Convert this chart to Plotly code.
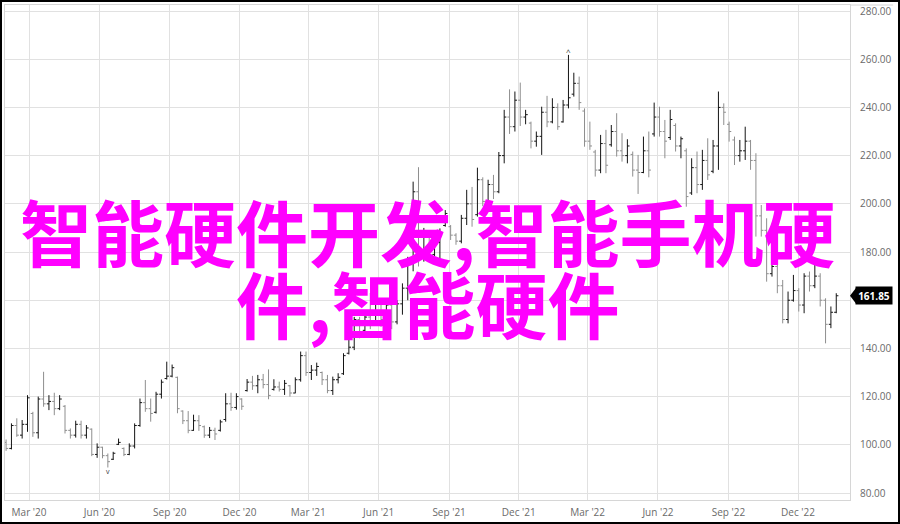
import pandas as pd
import plotly.graph_objects as go

# Weekly OHLC bars, Feb 2020 - Jan 2023
dates = pd.date_range("2020-01-31", periods=156, freq="7D")

high = [102.2, 108.9, 111.0, 110.3, 120.6, 113.7, 120.0, 130.3, 120.6, 121.6,
        120.6, 116.5, 106.8, 110.0, 110.0, 108.2, 106.8, 100.6, 99.2, 96.4,
        97.1, 102.6, 98.9, 100.6, 108.9, 119.2, 126.9, 119.2, 122.0, 127.1,
        134.5, 133.3, 128.3, 114.3, 114.0, 112.5, 112.3, 108.0, 107.4, 107.1,
        110.4, 121.4, 121.6, 121.4, 119.3, 127.3, 128.6, 129.0, 129.4, 131.3,
        127.2, 126.2, 126.9, 124.8, 128.0, 138.7, 138.7, 133.1, 134.1, 130.4,
        129.0, 128.3, 129.7, 138.0, 144.1, 153.1, 153.1, 155.0, 163.0, 164.0,
        160.0, 160.0, 159.0, 160.0, 167.0, 178.0, 209.2, 215.2, 190.0, 188.0,
        186.0, 189.8, 197.4, 191.2, 187.8, 195.4, 205.8, 207.0, 215.0, 211.0,
        210.0, 212.0, 221.5, 239.0, 247.5, 246.6, 250.3, 239.0, 234.1, 230.0,
        240.3, 244.8, 243.8, 241.7, 243.1, 261.8, 254.4, 252.8, 239.6, 234.1,
        222.4, 228.6, 230.7, 232.7, 237.6, 229.3, 226.8, 221.7, 220.3, 227.9,
        230.0, 242.0, 240.3, 234.8, 239.0, 233.4, 227.9, 223.0, 218.9, 221.7,
        222.4, 227.2, 226.5, 246.6, 241.7, 234.1, 227.9, 226.5, 232.0, 226.5,
        221.0, 199.5, 194.0, 176.0, 179.5, 168.4, 163.6, 170.5, 165.0, 171.2,
        171.9, 174.6, 171.2, 160.8, 157.4, 162.9]

low = [97.5, 98.1, 103.3, 102.6, 105.4, 103.3, 102.6, 115.8, 114.4, 112.3,
       114.4, 104.7, 102.6, 103.0, 102.6, 102.6, 95.3, 94.6, 94.4, 90.6,
       93.7, 99.9, 95.3, 95.7, 98.5, 107.5, 113.7, 109.6, 113.0, 119.2,
       127.1, 128.0, 113.1, 108.6, 104.8, 105.8, 105.8, 102.9, 102.8, 102.0,
       105.5, 109.6, 114.1, 114.6, 114.5, 122.1, 122.8, 121.4, 123.4, 118.9,
       122.5, 122.1, 120.7, 120.0, 121.4, 126.2, 128.6, 126.9, 128.6, 124.8,
       121.4, 120.7, 125.5, 129.0, 137.5, 139.3, 144.2, 147.0, 148.0, 150.0,
       149.0, 150.0, 148.0, 150.0, 154.0, 160.0, 172.0, 174.0, 176.0, 177.0,
       176.0, 177.4, 190.5, 185.0, 183.0, 183.6, 191.2, 190.5, 194.7, 199.0,
       200.2, 202.0, 204.4, 216.8, 229.0, 230.0, 232.3, 233.0, 223.0, 223.7,
       220.3, 231.8, 233.4, 230.7, 233.7, 239.6, 244.5, 239.0, 223.7, 222.4,
       211.3, 212.7, 212.7, 223.7, 219.6, 217.5, 216.8, 211.3, 204.1, 212.7,
       211.0, 227.9, 227.9, 218.9, 226.5, 221.7, 218.9, 198.8, 203.7, 204.4,
       205.8, 209.9, 212.7, 214.1, 232.7, 225.8, 216.1, 217.5, 218.2, 214.1,
       186.4, 186.4, 167.7, 169.8, 162.9, 150.4, 150.4, 159.4, 155.3, 154.6,
       163.6, 165.0, 157.4, 142.1, 148.4, 154.6]

open_ = [101.0, 98.5, 108.0, 104.0, 108.5, 113.0, 105.0, 119.0, 117.0, 118.0,
         115.0, 116.0, 106.0, 104.0, 108.5, 104.0, 106.5, 96.0, 99.0, 95.5,
         94.0, 100.2, 98.5, 96.0, 99.5, 108.0, 117.5, 115.0, 113.5, 121.0,
         127.5, 128.5, 128.0, 114.0, 110.0, 106.0, 110.0, 107.5, 104.0, 106.0,
         106.0, 110.5, 117.0, 115.5, 119.0, 122.5, 126.0, 124.5, 127.0, 125.0,
         123.0, 124.0, 123.0, 124.5, 121.5, 127.0, 137.0, 130.0, 131.0, 130.0,
         127.0, 122.5, 127.0, 129.5, 138.0, 140.5, 152.0, 147.5, 153.0, 150.0,
         159.5, 152.0, 158.0, 151.0, 158.5, 165.0, 176.0, 205.0, 178.0, 187.0,
         179.0, 184.0, 191.0, 190.5, 187.0, 184.5, 194.0, 200.0, 195.5, 210.0,
         201.0, 208.0, 205.0, 220.0, 236.0, 232.0, 243.0, 236.0, 233.5, 226.0,
         228.0, 238.0, 234.0, 240.0, 234.0, 241.0, 245.5, 250.0, 238.5, 226.0,
         221.5, 214.0, 225.0, 224.5, 230.0, 222.0, 220.0, 220.5, 214.0, 213.0,
         222.0, 229.0, 236.0, 230.0, 227.5, 232.5, 224.0, 222.0, 204.5, 215.0,
         208.0, 218.0, 213.5, 224.0, 240.0, 233.0, 226.5, 220.0, 222.0, 226.0,
         218.0, 195.0, 189.0, 171.0, 174.0, 166.0, 152.0, 160.0, 164.0, 158.0,
         170.0, 166.0, 170.0, 160.0, 150.0, 155.0]

close = [98.5, 108.0, 104.0, 108.5, 119.5, 105.0, 119.0, 117.0, 118.0, 115.0,
         119.0, 106.0, 104.0, 108.5, 104.0, 107.0, 96.0, 99.0, 95.5, 93.0,
         96.5, 101.0, 96.0, 99.5, 108.0, 117.5, 115.0, 113.0, 121.0, 126.0,
         128.5, 132.0, 115.0, 110.0, 106.0, 110.0, 108.0, 104.0, 106.0, 104.5,
         109.5, 117.0, 115.5, 120.0, 116.0, 126.0, 124.5, 127.0, 125.0, 120.5,
         124.0, 123.0, 125.5, 121.5, 127.0, 137.0, 130.0, 131.0, 132.5, 127.0,
         122.5, 127.0, 128.0, 137.0, 140.5, 152.0, 146.0, 153.0, 150.0, 162.0,
         152.0, 158.0, 151.0, 158.5, 165.0, 176.0, 205.0, 178.0, 187.0, 179.0,
         184.0, 188.0, 196.0, 187.0, 184.5, 194.0, 200.0, 193.5, 210.0, 201.0,
         208.0, 205.0, 220.0, 236.0, 232.0, 243.0, 236.0, 237.0, 226.0, 228.0,
         238.0, 234.0, 240.0, 232.0, 241.0, 244.0, 250.0, 242.0, 226.0, 224.0,
         214.0, 225.0, 216.0, 230.0, 222.0, 220.0, 224.0, 214.0, 213.0, 222.0,
         214.0, 236.0, 230.0, 226.0, 235.0, 224.0, 227.0, 203.0, 215.0, 208.0,
         218.0, 212.0, 224.0, 240.0, 238.0, 230.0, 220.0, 222.0, 226.0, 218.0,
         195.0, 189.0, 171.0, 174.0, 166.0, 152.0, 160.0, 164.0, 158.0, 170.0,
         166.0, 170.0, 160.0, 150.0, 155.0, 161.85]

y_ticks = [80, 100, 120, 140, 160, 180, 200, 220, 240, 260, 280]
# the 160 label is hidden behind the last-price marker in the reference
y_tick_labels = ["80.00", "100.00", "120.00", "140.00", "", "180.00", "200.00",
                 "220.00", "240.00", "260.00", "280.00"]
last_price = close[-1]
title_line1 = "智能硬件开发,智能手机硬"
title_line2 = "件,智能硬件"

fig = go.Figure()
fig.add_trace(go.Ohlc(
    x=dates, open=open_, high=high, low=low, close=close,
    increasing=dict(line=dict(color="#141414", width=1)),
    decreasing=dict(line=dict(color="#8e8e8e", width=1)),
    tickwidth=0.4, hoverinfo="skip", showlegend=False,
))

grid = "#e1e1e1"
fig.update_layout(
    width=900, height=524,
    margin=dict(l=5, r=50, t=5, b=24),
    paper_bgcolor="white", plot_bgcolor="white",
    font=dict(family="Open Sans", size=10, color="#6a6a6a"),
    showlegend=False,
    xaxis=dict(
        type="date",
        range=["2020-01-29 14:00", "2023-02-06 23:00"],
        tick0="2020-03-01", dtick="M3", tickformat="%b '%y",
        showgrid=True, gridcolor=grid, gridwidth=1,
        showline=True, mirror=True, linecolor="#d6d6d6", linewidth=1,
        ticks="", ticklabelstandoff=3,
        rangeslider=dict(visible=False), zeroline=False,
    ),
    yaxis=dict(
        side="right", range=[77.1, 282.5],
        tickvals=y_ticks, ticktext=y_tick_labels,
        showgrid=True, gridcolor=grid, gridwidth=1,
        showline=True, mirror=True, linecolor="#d6d6d6", linewidth=1,
        ticks="", ticklabelstandoff=7, zeroline=False,
    ),
)

# line extending the top border through the label gutter
fig.add_shape(type="line", xref="paper", yref="paper", x0=1, x1=1.051, y0=1, y1=1,
              line=dict(color="#d6d6d6", width=1))

# last-price marker
fig.add_shape(type="path", xref="paper", yref="y",
              path=f"M 1.0 {last_price} L 1.0075 {last_price + 3.4} L 1.0075 {last_price - 3.4} Z",
              fillcolor="black", line=dict(width=0))
fig.add_annotation(x=1, xref="paper", y=last_price, yref="y", xanchor="left", yanchor="middle",
                   xshift=5, text=f"<b>{last_price:.2f}</b>", showarrow=False,
                   bgcolor="black", font=dict(color="white", size=10, family="Open Sans"),
                   borderpad=2, width=32, height=13)

# high / low markers
fig.add_annotation(x=dates[105], y=high[105], text="^", showarrow=False, yanchor="bottom",
                   yshift=-4, font=dict(size=8, color="#333"))
fig.add_annotation(x=dates[19], y=low[19], text="v", showarrow=False, yanchor="top",
                   yshift=2, font=dict(size=7, color="#333"))

# magenta overlay text
for txt, yc in [(title_line1, 0.547), (title_line2, 0.401)]:
    fig.add_annotation(x=0.5, xref="paper", y=yc, yref="paper", xanchor="center", yanchor="middle",
                       text=f"<b>{txt}</b>", showarrow=False,
                       font=dict(family="Noto Sans CJK SC", size=72, color="#ff00ff"))

# page setup: no body margin, thin black frame around the picture
post = (
    "document.body.style.margin='0';"
    "var f=document.createElement('div');"
    "f.style.cssText='position:fixed;left:0;top:0;width:900px;height:524px;"
    "box-sizing:border-box;border:2px solid #000;pointer-events:none;z-index:9999;';"
    "document.body.appendChild(f);"
)
fig.write_html("out.html", config={"displayModeBar": False}, post_script=post)
